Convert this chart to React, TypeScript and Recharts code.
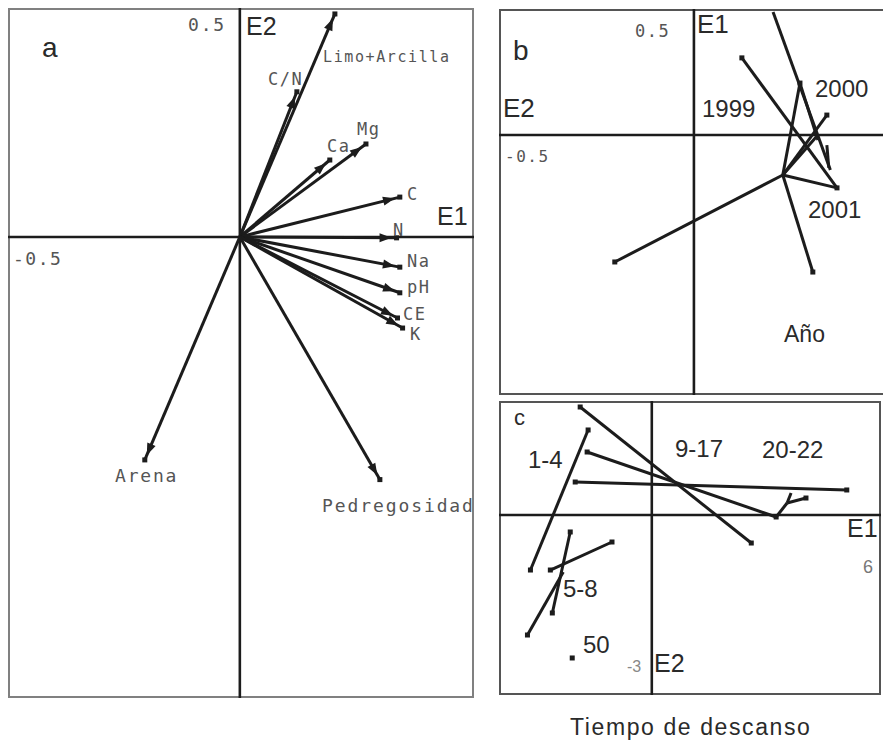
import { ScatterChart, Scatter, XAxis, YAxis, ReferenceLine } from "recharts";

// panel a: soil variables, loadings on E1 / E2
const soilVars = ["Limo+Arcilla", "C/N", "Ca", "Mg", "C", "N", "Na", "pH", "CE", "K", "Arena", "Pedregosidad"];
const soilE1 = [0.205, 0.123, 0.194, 0.272, 0.345, 0.338, 0.345, 0.345, 0.34, 0.351, -0.205, 0.302];
const soilE2 = [0.487, 0.317, 0.168, 0.203, 0.087, -0.002, -0.066, -0.122, -0.177, -0.199, -0.487, -0.53];

// panel b: year (start / end of each segment)
const yearFrom = [
  [0.203, 0.488], [0.123, 0.306], [-0.203, -0.504], [0.228, -0.159], [0.228, -0.159],
  [0.228, -0.159], [0.272, 0.206], [0.228, -0.159], [0.228, -0.159], [0.341, -0.04],
];
const yearTo = [
  [0.35, -0.139], [0.367, -0.21], [0.228, -0.159], [0.305, -0.544], [0.367, -0.21],
  [0.272, 0.206], [0.318, -0.02], [0.341, 0.079], [0.318, 0.0], [0.346, -0.131],
];
const yearPoints = [[0.123, 0.306], [-0.203, -0.504], [0.305, -0.544], [0.367, -0.21], [0.272, 0.206], [0.341, 0.079]];

// panel c: rest time
const restFrom = [
  [-1.875, 1.8], [-1.667, 1.417], [-1.693, 1.05], [-2.005, 0.55], [3.255, -0.033],
  [3.542, 0.2], [3.542, 0.2], [-2.135, -0.283], [-1.042, -0.45], [-3.255, -2.0],
];
const restTo = [
  [2.604, -0.467], [-3.177, -0.917], [3.255, -0.033], [5.104, 0.417], [3.542, 0.2],
  [3.646, 0.367], [4.036, 0.283], [-2.604, -1.633], [-2.656, -0.917], [-2.318, -0.95],
];
const restPoints = [
  [-1.875, 1.8], [2.604, -0.467], [-1.667, 1.417], [-3.177, -0.917], [-1.693, 1.05],
  [3.255, -0.033], [-2.005, 0.55], [5.104, 0.417], [4.036, 0.283], [-2.135, -0.283],
  [-2.604, -1.633], [-1.042, -0.45], [-2.656, -0.917], [-3.255, -2.0], [-2.083, -2.383],
];

const INK = "#1c1c1c";
const MONO = "'DejaVu Sans Mono', monospace";
const SANS = "'Liberation Sans', Arial, sans-serif";

const Arrow = (p: any) => {
  const { x1, y1, x2, y2 } = p;
  const dx = x2 - x1;
  const dy = y2 - y1;
  const len = Math.hypot(dx, dy) || 1;
  const ux = dx / len;
  const uy = dy / len;
  const tx = x2 - ux * 5;
  const ty = y2 - uy * 5;
  const bx = tx - ux * 12;
  const by = ty - uy * 12;
  return (
    <g>
      <line x1={x1} y1={y1} x2={x2} y2={y2} stroke={INK} strokeWidth={3} />
      <polygon
        points={`${tx},${ty} ${bx - uy * 4.5},${by + ux * 4.5} ${bx + uy * 4.5},${by - ux * 4.5}`}
        fill={INK}
      />
    </g>
  );
};

const Square = (p: any) => <rect x={p.cx - 2.5} y={p.cy - 2.5} width={5} height={5} fill={INK} />;

const toPts = (arr: number[][]) => arr.map(([x, y]) => ({ x, y }));

function Panel({ left, top, w, h, xDomain, yDomain, from, to, points, arrows, border, openRight }: any) {
  const shadow = openRight
    ? `inset 2px 0 0 ${border}, inset 0 2px 0 ${border}, inset 0 -2px 0 ${border}`
    : `inset 0 0 0 2px ${border}`;
  return (
    <div style={{ position: "absolute", left, top, width: w, height: h, boxShadow: shadow }}>
      <ScatterChart width={w} height={h} margin={{ top: 0, right: 0, bottom: 0, left: 0 }}>
        <XAxis type="number" dataKey="x" domain={xDomain} hide allowDataOverflow />
        <YAxis type="number" dataKey="y" domain={yDomain} hide allowDataOverflow />
        <ReferenceLine x={0} stroke={INK} strokeWidth={2.6} />
        <ReferenceLine y={0} stroke={INK} strokeWidth={2.6} />
        {from.map((f: number[], i: number) => (
          <ReferenceLine
            key={i}
            ifOverflow="visible"
            segment={[{ x: f[0], y: f[1] }, { x: to[i][0], y: to[i][1] }]}
            stroke={INK}
            strokeWidth={3}
            shape={arrows ? Arrow : undefined}
          />
        ))}
        <Scatter data={toPts(points)} shape={Square} isAnimationActive={false} />
      </ScatterChart>
    </div>
  );
}

const T = ({ x, y, s, f = SANS, c = "#2a2a2a", ls = 0, children }: any) => (
  <text x={x} y={y} fontSize={s} fontFamily={f} fill={c} letterSpacing={ls}>
    {children}
  </text>
);

export default function App() {
  const soilTips = soilE1.map((x, i) => [x, soilE2[i]]);
  return (
    <div style={{ position: "absolute", left: 0, top: 0, width: 883, height: 740, background: "#fff" }}>
      <Panel
        left={8} top={8} w={466} h={690}
        xDomain={[-0.5, 0.505]} yDomain={[-1.007, 0.5]}
        from={soilVars.map(() => [0, 0])} to={soilTips} points={soilTips}
        arrows border="#808080"
      />
      <Panel
        left={499} top={9} w={384} h={386}
        xDomain={[-0.5, 0.485]} yDomain={[-1.032, 0.5]}
        from={yearFrom} to={yearTo} points={yearPoints}
        border="#555" openRight
      />
      <Panel
        left={499} top={401} w={382} h={294}
        xDomain={[-4, 6]} yDomain={[-3, 1.9]}
        from={restFrom} to={restTo} points={restPoints}
        border="#555"
      />
      <svg width={883} height={740} style={{ position: "absolute", left: 0, top: 0, pointerEvents: "none" }}>
        {/* panel a */}
        <T x={323} y={62} s={15} f={MONO} c="#555" ls={1.6}>{soilVars[0]}</T>
        <T x={268} y={85} s={17} f={MONO} c="#555" ls={1.5}>{soilVars[1]}</T>
        <T x={327} y={152} s={17} f={MONO} c="#555" ls={1.5}>{soilVars[2]}</T>
        <T x={357} y={135} s={17} f={MONO} c="#555" ls={1.5}>{soilVars[3]}</T>
        <T x={407} y={200} s={17} f={MONO} c="#555">{soilVars[4]}</T>
        <T x={393} y={236} s={17} f={MONO} c="#555">{soilVars[5]}</T>
        <T x={407} y={267} s={17} f={MONO} c="#555" ls={1.5}>{soilVars[6]}</T>
        <T x={407} y={293} s={17} f={MONO} c="#555" ls={1.5}>{soilVars[7]}</T>
        <T x={403} y={320} s={17} f={MONO} c="#555" ls={1.5}>{soilVars[8]}</T>
        <T x={410} y={340} s={17} f={MONO} c="#555">{soilVars[9]}</T>
        <T x={115} y={482} s={18} f={MONO} c="#555" ls={1.8}>{soilVars[10]}</T>
        <T x={322} y={512} s={18} f={MONO} c="#555" ls={1.9}>{soilVars[11]}</T>
        <T x={188} y={31} s={18} f={MONO} c="#555" ls={1.8}>0.5</T>
        <T x={13} y={265} s={18} f={MONO} c="#555" ls={1.5}>-0.5</T>
        <T x={42} y={57} s={28}>a</T>
        <T x={246} y={35} s={25}>E2</T>
        <T x={437} y={225} s={25}>E1</T>
        {/* panel b */}
        <T x={513} y={60} s={28}>b</T>
        <T x={635} y={37} s={17} f={MONO} c="#555" ls={1.5}>0.5</T>
        <T x={697} y={33} s={26}>E1</T>
        <T x={503} y={117} s={26}>E2</T>
        <T x={505} y={162} s={16} f={MONO} c="#555" ls={1.5}>-0.5</T>
        <T x={702} y={117} s={24}>1999</T>
        <T x={815} y={97} s={24}>2000</T>
        <T x={808} y={218} s={24}>2001</T>
        <T x={784} y={342} s={23}>Año</T>
        {/* panel c */}
        <T x={514} y={425} s={22}>c</T>
        <T x={528} y={468} s={24}>1-4</T>
        <T x={675} y={457} s={24}>9-17</T>
        <T x={762} y={458} s={24}>20-22</T>
        <T x={847} y={537} s={25}>E1</T>
        <T x={863} y={573} s={18} c="#777">6</T>
        <T x={563} y={597} s={24}>5-8</T>
        <T x={583} y={653} s={24}>50</T>
        <T x={627} y={672} s={16} c="#888">-3</T>
        <T x={654} y={672} s={25}>E2</T>
        <T x={570} y={735} s={23} ls={1.6}>Tiempo de descanso</T>
      </svg>
    </div>
  );
}
